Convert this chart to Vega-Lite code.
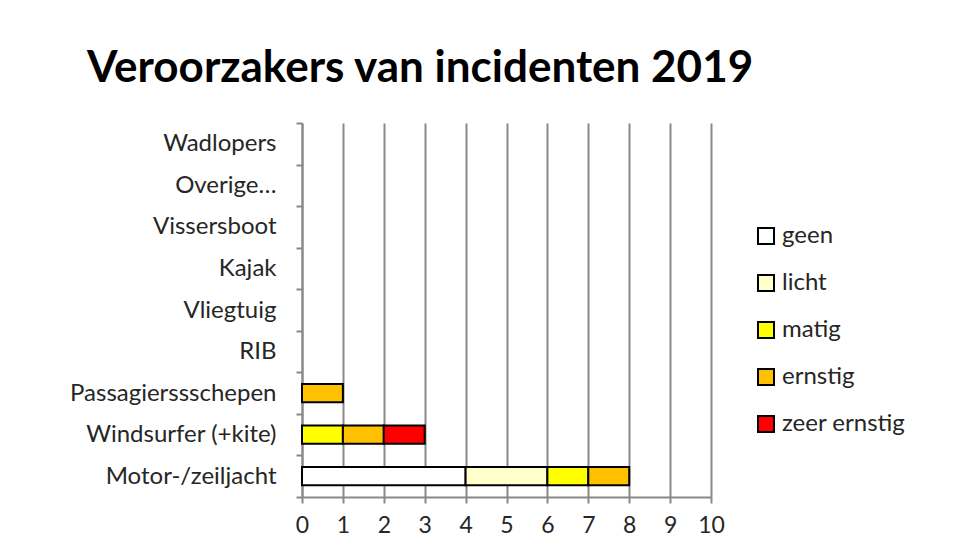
{
  "$schema": "https://vega.github.io/schema/vega-lite/v6.json",
  "width": 409,
  "height": 374,
  "autosize": "none",
  "padding": {"left": 302, "top": 123, "right": 267, "bottom": 59},
  "background": "white",
  "title": {
    "text": "Veroorzakers van incidenten 2019",
    "anchor": "start",
    "frame": "group",
    "dx": -215,
    "offset": 20,
    "font": "Lato",
    "fontSize": 44,
    "fontWeight": "bold",
    "color": "#000000"
  },
  "data": {
    "values": [
      {"oorzaak": "Motor-/zeiljacht", "ernst": "geen", "k": 1, "aantal": 4},
      {"oorzaak": "Motor-/zeiljacht", "ernst": "licht", "k": 2, "aantal": 2},
      {"oorzaak": "Motor-/zeiljacht", "ernst": "matig", "k": 3, "aantal": 1},
      {"oorzaak": "Motor-/zeiljacht", "ernst": "ernstig", "k": 4, "aantal": 1},
      {"oorzaak": "Windsurfer (+kite)", "ernst": "matig", "k": 3, "aantal": 1},
      {"oorzaak": "Windsurfer (+kite)", "ernst": "ernstig", "k": 4, "aantal": 1},
      {"oorzaak": "Windsurfer (+kite)", "ernst": "zeer ernstig", "k": 5, "aantal": 1},
      {"oorzaak": "Passagierssschepen", "ernst": "ernstig", "k": 4, "aantal": 1}
    ]
  },
  "mark": {"type": "bar", "stroke": "#000000", "strokeWidth": 2, "height": {"band": 0.44}},
  "encoding": {
    "y": {
      "field": "oorzaak",
      "type": "nominal",
      "title": null,
      "scale": {
        "domain": ["Wadlopers", "Overige…", "Vissersboot", "Kajak", "Vliegtuig", "RIB", "Passagierssschepen", "Windsurfer (+kite)", "Motor-/zeiljacht"],
        "paddingInner": 0,
        "paddingOuter": 0
      },
      "axis": {
        "tickBand": "extent",
        "grid": false,
        "domainColor": "#898989",
        "domainWidth": 2,
        "tickColor": "#898989",
        "tickWidth": 2,
        "tickSize": 6,
        "labelFont": "Lato",
        "labelFontSize": 24,
        "labelColor": "#262626",
        "labelPadding": 20,
        "labelLimit": 300
      }
    },
    "x": {
      "field": "aantal",
      "type": "quantitative",
      "aggregate": "sum",
      "stack": "zero",
      "title": null,
      "scale": {"domain": [0, 10], "nice": false},
      "axis": {
        "values": [0, 1, 2, 3, 4, 5, 6, 7, 8, 9, 10],
        "grid": true,
        "gridColor": "#898989",
        "gridWidth": 2,
        "domainColor": "#898989",
        "domainWidth": 2,
        "tickColor": "#898989",
        "tickWidth": 2,
        "tickSize": 6,
        "labelFont": "Lato",
        "labelFontSize": 23,
        "labelColor": "#262626",
        "labelPadding": 11,
        "labelFlush": false
      }
    },
    "color": {
      "field": "ernst",
      "type": "nominal",
      "scale": {
        "domain": ["geen", "licht", "matig", "ernstig", "zeer ernstig"],
        "range": ["#FFFFFF", "#FFFFCC", "#FFFF00", "#FFC000", "#FF0000"]
      },
      "legend": {
        "title": null,
        "orient": "none",
        "legendX": 452,
        "legendY": 101,
        "symbolType": "square",
        "symbolSize": 256,
        "symbolStrokeColor": "#000000",
        "symbolStrokeWidth": 2,
        "labelFont": "Lato",
        "labelFontSize": 24,
        "labelColor": "#262626",
        "labelOffset": 4,
        "rowPadding": 23
      }
    },
    "order": {"field": "k", "type": "quantitative", "sort": "ascending"}
  },
  "config": {"view": {"stroke": null}}
}
